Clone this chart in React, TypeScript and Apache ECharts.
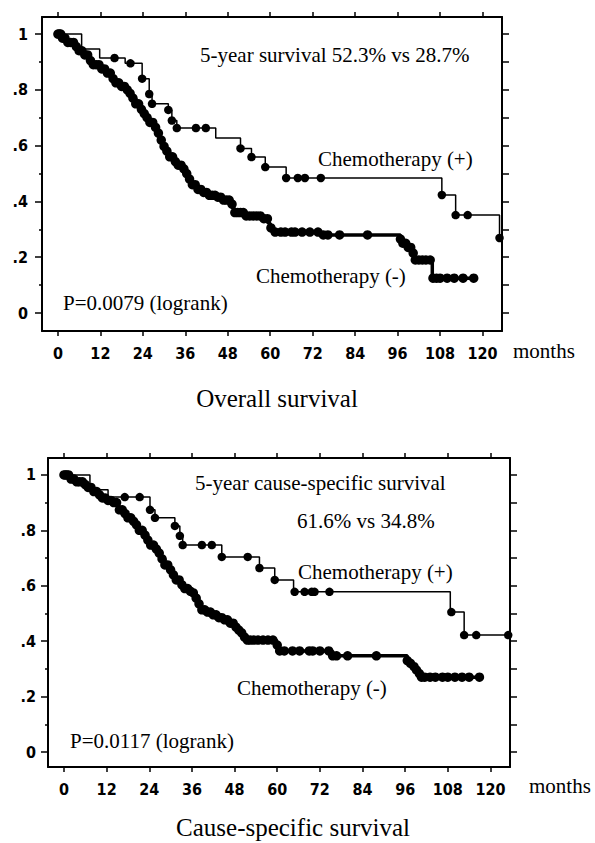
import React, { useEffect, useRef } from "react";
import * as echarts from "echarts";

// ---------- axis ticks ----------
const X_TICKS = [0, 12, 24, 36, 48, 60, 72, 84, 96, 108, 120];
const Y_LABEL_TICKS = [0, 0.2, 0.4, 0.6, 0.8, 1];
const Y_MINOR_TICKS = [0.1, 0.3, 0.5, 0.7, 0.9];
const Y_RIGHT_TICKS = [0, 0.1, 0.2, 0.3, 0.4, 0.5, 0.6, 0.7, 0.8, 0.9, 1];

// ---------- Overall survival ----------
const osPlusSteps: [number, number][] = [
  [0, 1.0], [6.7, 0.946], [11.8, 0.914], [19, 0.895], [23.8, 0.84], [25.8, 0.785],
  [26.6, 0.75], [31.2, 0.728], [32.2, 0.69], [33.6, 0.663], [44.6, 0.627], [51.6, 0.59],
  [54.7, 0.559], [58.6, 0.523], [64.5, 0.484], [108.5, 0.423], [112.4, 0.351], [124.8, 0.269],
];
const osPlusMarks = [
  16, 20.5, 23.8, 25.8, 26.6, 31.2, 32.2, 33.6, 39, 41.8, 51.6, 54.7, 58.6, 64.5, 67.8,
  69.8, 74.3, 108.5, 112.4, 115.8, 124.8,
];
const osMinusSteps: [number, number][] = [
  [0, 1.0], [1, 0.985], [2.5, 0.97], [4.5, 0.955], [6, 0.94], [7.5, 0.925], [8.5, 0.905],
  [10, 0.89], [12, 0.875], [13.5, 0.86], [15, 0.84], [16, 0.825], [17.5, 0.812], [19, 0.8],
  [20, 0.787], [21, 0.77], [22, 0.75], [23, 0.73], [24, 0.715], [25, 0.7], [26, 0.683],
  [27, 0.665], [27.8, 0.645], [28.6, 0.62], [29.5, 0.597], [30.5, 0.58], [31.5, 0.56],
  [32.5, 0.543], [33.8, 0.53], [35, 0.517], [36.2, 0.5], [37, 0.48], [37.8, 0.46],
  [39, 0.443], [40.5, 0.432], [42.5, 0.422], [44.5, 0.415], [46.5, 0.405], [48.6, 0.39],
  [49.4, 0.375], [50, 0.36], [53, 0.348], [57.5, 0.338], [59.4, 0.322], [60, 0.305],
  [60.5, 0.29], [74.5, 0.28], [96.8, 0.265], [97.5, 0.25], [99, 0.235], [100, 0.215],
  [101, 0.19], [105.8, 0.125], [117.5, 0.125],
];
const osMinusMarks = [
  0, 0.4, 0.8, 1.3, 2, 2.8, 3.6, 4.4, 5.2, 6, 6.8, 7.6, 8.4, 9.2, 10, 10.8, 11.6, 12.4,
  13.2, 14, 14.8, 15.6, 16.4, 17.2, 18, 18.8, 19.6, 20.4, 21.2, 22, 22.8, 23.6, 24.4, 25.2,
  26, 26.8, 27.6, 28.4, 29.2, 30, 30.8, 31.6, 32.4, 33.2, 34, 34.8, 35.6, 36.4, 37.2, 38,
  38.8, 39.6, 40.4, 41.2, 42, 42.8, 43.6, 44.4, 45.2, 46, 46.8, 47.6, 48.4, 49.2, 50, 50.8,
  51.6, 52.4, 53.2, 54.2, 55.2, 56.2, 57.2, 58.2, 59.2, 60.2, 61.4, 63, 64.2, 66, 67, 69,
  71.2, 73.5, 75, 76.3, 79.6, 87.5, 96.8, 97.5, 98.3, 99, 99.7, 100.4, 101, 102, 103, 104,
  105.2, 106, 107, 108, 110, 112, 114.5, 117.5,
];

// ---------- Cause-specific survival ----------
const cssPlusSteps: [number, number][] = [
  [0, 1.0], [7.3, 0.946], [12.4, 0.92], [24.2, 0.874], [25.6, 0.845], [31.2, 0.816],
  [32.6, 0.78], [33.4, 0.747], [44.4, 0.704], [55, 0.664], [59.3, 0.621], [64.6, 0.578],
  [108.7, 0.505], [112.6, 0.422], [125, 0.422],
];
const cssPlusMarks = [
  17.1, 21.3, 24.2, 25.6, 31.2, 32.6, 33.4, 38.8, 41.6, 44.4, 51.7, 55, 59.3, 64.9, 67.7,
  69.7, 70.5, 74.7, 109, 112.6, 116, 125,
];
const cssMinusSteps: [number, number][] = [
  [0, 1.0], [1.7, 0.985], [3.5, 0.975], [5.3, 0.965], [6.5, 0.955], [7.9, 0.94],
  [9.3, 0.928], [10.7, 0.917], [12, 0.908], [13.5, 0.9], [15.2, 0.874], [16.5, 0.86],
  [17.7, 0.845], [19, 0.832], [20, 0.82], [21, 0.8], [22.2, 0.783], [23.2, 0.765],
  [24.2, 0.747], [25.3, 0.732], [26.4, 0.718], [27.4, 0.697], [28.4, 0.675], [29.5, 0.657],
  [30.6, 0.639], [31.5, 0.621], [32.6, 0.603], [33.6, 0.59], [35, 0.58], [36, 0.574],
  [36.8, 0.555], [37.5, 0.535], [38.2, 0.513], [40, 0.505], [41.6, 0.495], [43.5, 0.485],
  [45.2, 0.477], [46.5, 0.465], [47.7, 0.451], [48.6, 0.44], [49.4, 0.43], [50.4, 0.415],
  [51.4, 0.404], [59.8, 0.386], [60.3, 0.372], [60.7, 0.365], [75.6, 0.347], [96.6, 0.33],
  [97.5, 0.32], [98.5, 0.308], [99.2, 0.296], [100, 0.283], [100.6, 0.27], [116.9, 0.27],
];
const cssMinusMarks = [
  0, 0.4, 0.8, 1.3, 2, 2.8, 3.6, 4.4, 5.2, 6, 6.8, 7.6, 8.4, 9.2, 10, 10.8, 11.6, 12.4,
  13.2, 14, 14.8, 15.6, 16.4, 17.2, 18, 18.8, 19.6, 20.4, 21.2, 22, 22.8, 23.6, 24.4, 25.2,
  26, 26.8, 27.6, 28.4, 29.2, 30, 30.8, 31.6, 32.4, 33.2, 34, 34.8, 35.6, 36.4, 37.2, 38,
  38.8, 39.6, 40.4, 41.2, 42, 42.8, 43.6, 44.4, 45.2, 46, 46.8, 47.6, 48.4, 49.2, 50, 50.8,
  51.6, 52.4, 53.4, 54.6, 56, 57.4, 58.8, 60, 60.7, 62, 64.3, 66.3, 69, 70, 72, 74.5, 75.6,
  76.7, 79.8, 87.9, 96.6, 97.5, 98.5, 99.2, 100, 100.6, 101.5, 103, 104.5, 106.5, 108, 110,
  112, 114, 116.9,
];

// Kaplan-Meier value at time t (right-continuous step function)
function survAt(steps: [number, number][], t: number): number {
  let v = steps[0][1];
  for (const [st, sv] of steps) {
    if (st <= t + 1e-9) v = sv;
    else break;
  }
  return v;
}
const marks = (steps: [number, number][], times: number[]) =>
  times.map((t) => [t, survAt(steps, t)]);

const SERIF = '"Liberation Serif", "Times New Roman", serif';
const SANS = '"DejaVu Sans Condensed", "Liberation Sans Narrow", "Liberation Sans", sans-serif';

const X_MIN = -4.5;
const X_MAX = 125.5;

function yFmt(v: number) {
  if (Math.abs(v) < 1e-9) return "0";
  if (Math.abs(v - 1) < 1e-9) return "1";
  return "." + Math.round(v * 10);
}

function axesFor(gridIndex: number, yMin: number, yMax: number, labelMargin: number) {
  const lineStyle = { color: "#000", width: 2 };
  const tickLine = { color: "#000", width: 1.5 };
  const labelStyle = { color: "#000", fontFamily: SANS, fontSize: 16, fontWeight: "bold" };
  const xAxes = [
    {
      type: "value", gridIndex, position: "bottom", min: X_MIN, max: X_MAX,
      axisLine: { show: true, onZero: false, lineStyle },
      axisTick: { show: true, customValues: X_TICKS, length: 5, inside: false, lineStyle: tickLine },
      axisLabel: { show: true, customValues: X_TICKS, margin: 14, ...labelStyle },
      splitLine: { show: false },
    },
    {
      type: "value", gridIndex, position: "top", min: X_MIN, max: X_MAX,
      axisLine: { show: true, onZero: false, lineStyle },
      axisTick: { show: true, customValues: X_TICKS, length: 5, inside: false, lineStyle: tickLine },
      axisLabel: { show: false },
      splitLine: { show: false },
    },
  ];
  const yAxes = [
    {
      type: "value", gridIndex, position: "left", min: yMin, max: yMax,
      axisLine: { show: true, onZero: false, lineStyle },
      axisTick: { show: true, customValues: Y_LABEL_TICKS, length: 7, inside: false, lineStyle: tickLine },
      axisLabel: { show: true, customValues: Y_LABEL_TICKS, margin: labelMargin, formatter: yFmt, ...labelStyle },
      splitLine: { show: false },
    },
    {
      type: "value", gridIndex, position: "left", min: yMin, max: yMax,
      axisLine: { show: false, onZero: false },
      axisTick: { show: true, customValues: Y_MINOR_TICKS, length: 3, inside: false, lineStyle: tickLine },
      axisLabel: { show: false },
      splitLine: { show: false },
    },
    {
      type: "value", gridIndex, position: "right", min: yMin, max: yMax,
      axisLine: { show: true, onZero: false, lineStyle },
      axisTick: { show: true, customValues: Y_RIGHT_TICKS, length: 7, inside: false, lineStyle: tickLine },
      axisLabel: { show: false },
      splitLine: { show: false },
    },
  ];
  return { xAxes, yAxes };
}

function kmSeries(
  name: string, xAxisIndex: number, yAxisIndex: number,
  steps: [number, number][], times: number[], lineWidth: number, dotSize: number,
) {
  return [
    {
      name: name + " curve", type: "line", step: "end", xAxisIndex, yAxisIndex,
      data: steps, showSymbol: false, symbol: "none",
      lineStyle: { color: "#000", width: lineWidth, opacity: 1 }, z: 2,
    },
    {
      name: name + " marks", type: "scatter", xAxisIndex, yAxisIndex,
      data: marks(steps, times), symbol: "circle", symbolSize: dotSize,
      itemStyle: { color: "#000", opacity: 1 }, z: 3,
    },
  ];
}

function txt(text: string, x: number, y: number, size: number, align = "left") {
  return {
    type: "text", x, y, silent: true,
    style: {
      text, fill: "#000", font: `${size}px ${SERIF}`,
      align, textAlign: align, verticalAlign: "middle", textVerticalAlign: "middle",
    },
  };
}

export default function App() {
  const ref = useRef<HTMLDivElement>(null);
  useEffect(() => {
    if (!ref.current) return;
    const chart = echarts.init(ref.current, null, { renderer: "svg" });
    const top = axesFor(0, -0.0645, 1.061, 14);
    const bot = axesFor(1, -0.054, 1.061, 12);
    const option = {
      animation: false,
      backgroundColor: "#fff",
      grid: [
        { left: 42, top: 17, width: 460, height: 314, containLabel: false },
        { left: 48, top: 458, width: 462, height: 309, containLabel: false },
      ],
      xAxis: [...top.xAxes, ...bot.xAxes],
      yAxis: [...top.yAxes, ...bot.yAxes],
      series: [
        ...kmSeries("OS Chemotherapy (+)", 0, 0, osPlusSteps, osPlusMarks, 1.5, 8.5),
        ...kmSeries("OS Chemotherapy (-)", 0, 0, osMinusSteps, osMinusMarks, 3.5, 9.5),
        ...kmSeries("CSS Chemotherapy (+)", 2, 3, cssPlusSteps, cssPlusMarks, 1.5, 8.5),
        ...kmSeries("CSS Chemotherapy (-)", 2, 3, cssMinusSteps, cssMinusMarks, 3.5, 9.5),
      ],
      graphic: [
        txt("5-year survival 52.3% vs 28.7%", 200, 55, 21),
        txt("Chemotherapy (+)", 318, 159, 21),
        txt("Chemotherapy (-)", 256, 276, 21),
        txt("P=0.0079 (logrank)", 63, 303, 21),
        txt("months", 513, 351, 21),
        txt("Overall survival", 277, 398, 25, "center"),
        txt("5-year cause-specific survival", 195, 483, 21),
        txt("61.6% vs 34.8%", 297, 521, 21),
        txt("Chemotherapy (+)", 298, 572, 21),
        txt("Chemotherapy (-)", 237, 688, 21),
        txt("P=0.0117 (logrank)", 70, 741, 21),
        txt("months", 529, 786, 21),
        txt("Cause-specific survival", 293, 827, 25, "center"),
      ],
    };
    chart.setOption(option as any);
    return () => chart.dispose();
  }, []);
  return (
    <div
      ref={ref}
      style={{ position: "absolute", left: 0, top: 0, width: 595, height: 843, background: "#fff" }}
    />
  );
}
